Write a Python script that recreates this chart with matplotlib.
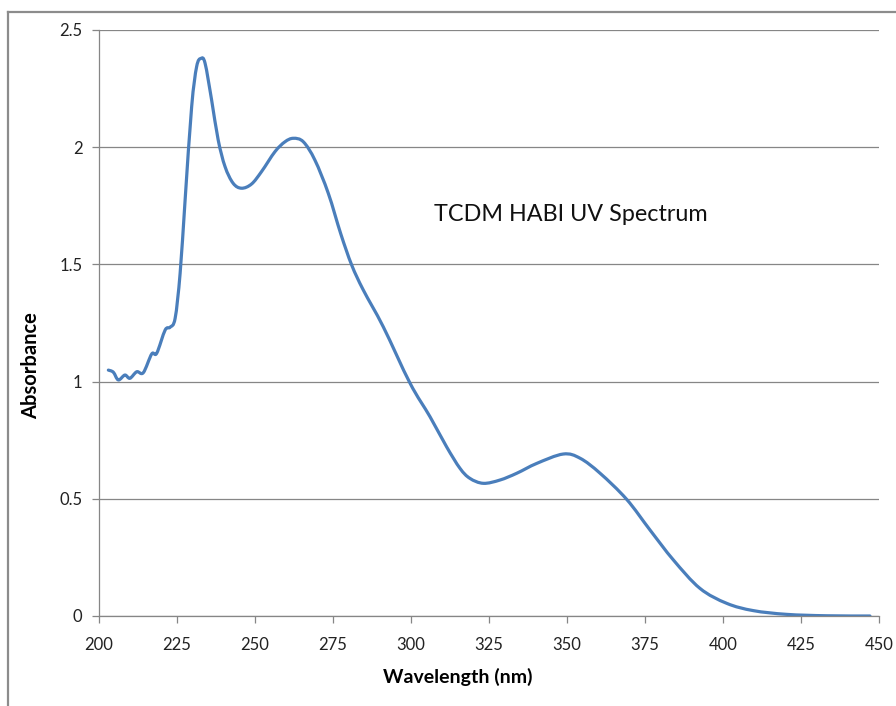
import matplotlib
matplotlib.use("Agg")
import numpy as np
import matplotlib.pyplot as pl
from matplotlib.lines import Line2D
from matplotlib.path import Path
from matplotlib.patches import PathPatch

# absorbance spectrum, values
wavelength = [203.0, 204.6, 206.2, 208.3, 209.9, 212.1, 214.2, 216.9, 218.5,
              221.2, 222.8, 224.4, 226.0, 227.6, 229.7, 231.3, 232.7, 234.0,
              236.1, 238.2, 240.4, 243.0, 245.7, 248.9, 252.1, 256.4, 259.6,
              262.3, 265.5, 269.2, 273.5, 277.5, 281.0, 284.7, 291.1, 299.7,
              306.1, 311.4, 315.7, 318.9, 323.2, 328.5, 333.9, 340.3, 348.8,
              354.2, 360.6, 369.1, 376.6, 384.1, 392.6, 401.2, 409.7, 420.4,
              433.2, 447.1]
absorbance = [1.049, 1.040, 1.007, 1.028, 1.014, 1.042, 1.038, 1.118, 1.121,
              1.220, 1.232, 1.270, 1.462, 1.775, 2.173, 2.344, 2.379, 2.358,
              2.201, 2.031, 1.917, 1.846, 1.825, 1.843, 1.896, 1.981, 2.023,
              2.038, 2.023, 1.945, 1.803, 1.630, 1.497, 1.391, 1.234, 0.993,
              0.850, 0.722, 0.630, 0.587, 0.566, 0.580, 0.609, 0.651, 0.691,
              0.673, 0.609, 0.498, 0.367, 0.239, 0.118, 0.054, 0.023, 0.007,
              0.001, 0.000]

x_ticks = [200, 225, 250, 275, 300, 325, 350, 375, 400, 425, 450]
y_ticks = [0, 0.5, 1, 1.5, 2, 2.5]
y_tick_labels = ["0", "0.5", "1", "1.5", "2", "2.5"]

font = ["Lato", "DejaVu Sans"]
grey = "#868686"


def smoothed_path(x, y):
    """Spreadsheet-style smoothed line: Catmull-Rom segments as cubic Beziers."""
    pts = np.column_stack([x, y])
    n = len(pts)
    verts = [pts[0]]
    codes = [Path.MOVETO]
    for i in range(n - 1):
        p0 = pts[max(i - 1, 0)]
        p1 = pts[i]
        p2 = pts[i + 1]
        p3 = pts[min(i + 2, n - 1)]
        verts += [p1 + (p2 - p0) / 6, p2 - (p3 - p1) / 6, p2]
        codes += [Path.CURVE4] * 3
    return Path(verts, codes)


fig = pl.figure(figsize=(8.96, 7.06), dpi=100)
ax = fig.add_axes([99 / 896, 90 / 706, 780 / 896, 586 / 706])

# chart border from the spreadsheet, cut off at right and bottom
top = 1 - 12 / 706
left = 8 / 896
fig.lines.append(Line2D([left, 1.0], [top, top], transform=fig.transFigure,
                        color="#8c8c8c", linewidth=1.6))
fig.lines.append(Line2D([left, left], [0.0, top], transform=fig.transFigure,
                        color="#8c8c8c", linewidth=1.6))

ax.add_patch(PathPatch(smoothed_path(wavelength, absorbance), fill=False,
                       edgecolor="#4a7ebb", linewidth=2.3,
                       capstyle="round", joinstyle="round"))

ax.set_xlim(200, 450)
ax.set_ylim(0, 2.5)
ax.set_xticks(x_ticks)
ax.set_yticks(y_ticks)
ax.set_yticklabels(y_tick_labels)
ax.yaxis.grid(True, color=grey, linewidth=0.9)
ax.set_axisbelow(True)
for side in ["top", "right"]:
    ax.spines[side].set_visible(False)
for side in ["left", "bottom"]:
    ax.spines[side].set_color(grey)
    ax.spines[side].set_linewidth(0.9)
ax.tick_params(direction="out", length=5, width=0.9, color=grey,
               labelsize=12, labelcolor="#222222")
ax.tick_params(axis="x", pad=10)
ax.tick_params(axis="y", pad=7)
for label in ax.get_xticklabels() + ax.get_yticklabels():
    label.set_family(font)

ax.text(0.460, -0.104, "Wavelength (nm)", transform=ax.transAxes,
        fontsize=14, fontweight="bold", family=font, ha="center", va="center")
ax.text(-0.0872, 0.4266, "Absorbance", transform=ax.transAxes, rotation=90,
        fontsize=14.5, fontweight="bold", family=font, ha="center", va="center")
ax.text(351.3, 1.715, "TCDM HABI UV Spectrum", fontsize=16.8, family=font,
        ha="center", va="center", color="#111111")

fig.savefig("out.png", dpi=100)
